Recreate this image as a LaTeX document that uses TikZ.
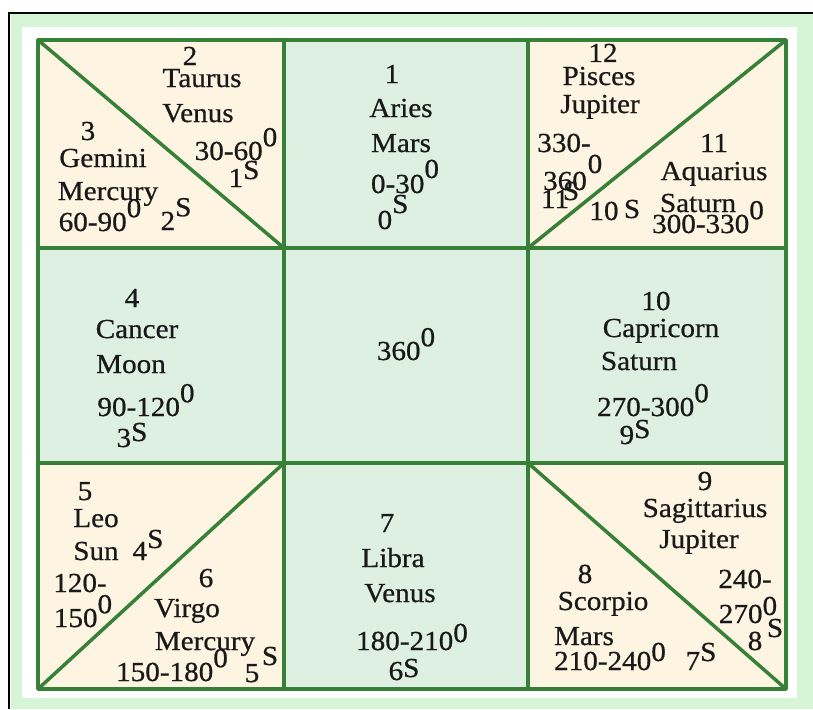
\documentclass[tikz,border=0pt]{standalone}
\usepackage{fontspec}
\setmainfont{Liberation Serif}[FakeStretch=1.06,FakeBold=0.6]
\definecolor{ink}{RGB}{25,25,25}
\definecolor{gridgreen}{RGB}{55,128,55}
\definecolor{cream}{RGB}{253,244,226}
\definecolor{cellgreen}{RGB}{222,240,226}
\definecolor{band}{RGB}{214,244,214}
\newcommand\up[2][.5em]{\raisebox{#1}{#2}}
\begin{document}
\begin{tikzpicture}[x=1pt,y=-1pt,
  t/.style={anchor=base,inner sep=0pt,font=\fontsize{27.5}{32}\selectfont,text=ink},
  gridline/.style={draw=gridgreen,line width=3.5pt,line cap=round,line join=round}]
\useasboundingbox (0,0) rectangle (813,709);
% outer frame
\fill[white] (0,0) rectangle (813,709);
\fill[band,even odd rule] (11,14) rectangle (813,709) (22,27) rectangle (797,698);
\draw[black,line width=1.5pt] (9,709) -- (9,13) -- (813,13);
% cells
\fill[cream] (38,40) rectangle (284,248);
\fill[cellgreen] (284,40) rectangle (528,248);
\fill[cream] (528,40) rectangle (786,248);
\fill[cellgreen] (38,248) rectangle (786,463);
\fill[cream] (38,463) rectangle (284,689);
\fill[cellgreen] (284,463) rectangle (528,689);
\fill[cream] (528,463) rectangle (786,689);
% grid
\draw[gridline] (38,40) rectangle (786,689);
\draw[gridline] (284,40) -- (284,689);
\draw[gridline] (528,40) -- (528,689);
\draw[gridline] (38,248) -- (786,248);
\draw[gridline] (38,463) -- (786,463);
\draw[gridline] (38,40) -- (284,248);
\draw[gridline] (528,248) -- (786,40);
\draw[gridline] (38,689) -- (284,463);
\draw[gridline] (528,463) -- (786,689);
% top-left
\node[t] (a1) at (190,65) {2};
\node[t] (a2) at (202,87) {Taurus};
\node[t] (a3) at (198,122) {Venus};
\node[t] (a4) at (236,160) {30-60\up{0}};
\node[t] (a5) at (244,187) {1\up[8pt]{S}};
\node[t] (a6) at (88,140) {3};
\node[t] (a7) at (103,167) {Gemini};
\node[t] (a8) at (108,200) {Mercury};
\node[t] (a9) at (100,231) {60-90\up{0}};
\node[t] (a10) at (176,230) {2\up{S}};
% top-middle
\node[t] (b1) at (392,83) {1};
\node[t] (b2) at (401,117) {Aries};
\node[t] (b3) at (401,152) {Mars};
\node[t] (b4) at (405,193) {0-30\up[15pt]{0}};
\node[t] (b5) at (393,229) {0\up[16pt]{S}};
% top-right
\node[t] (c1) at (603,62) {12};
\node[t] (c2) at (599,85) {Pisces};
\node[t] (c3) at (600,113) {Jupiter};
\node[t] (c4) at (564,152) {330-};
\node[t] (c5) at (595,173) {0};
\node[t] (c6) at (565,190) {360};
\node[t] (c7) at (555,208) {11};
\node[t] (c8) at (571,200) {S};
\node[t] (c9) at (604,220) {10};
\node[t] (c10) at (632,218) {S};
\node[t] (c11) at (714,152) {11};
\node[t] (c12) at (714,180) {Aquarius};
\node[t] (c13) at (698,212) {Saturn};
\node[t] (c14) at (708,233) {300-330\up{0}};
% middle row
\node[t] (d1) at (132,307) {4};
\node[t] (d2) at (137,338) {Cancer};
\node[t] (d3) at (131,373) {Moon};
\node[t] (d4) at (146,416) {90-120\up{0}};
\node[t] (d5) at (132,447) {3\up[6pt]{S}};
\node[t] (e1) at (406,360) {360\up{0}};
\node[t] (f1) at (656,310) {10};
\node[t] (f2) at (661,337) {Capricorn};
\node[t] (f3) at (639,370) {Saturn};
\node[t] (f4) at (653,416) {270-300\up{0}};
\node[t] (f5) at (635,444) {9\up[6pt]{S}};
% bottom-left
\node[t] (g1) at (85,500) {5};
\node[t] (g2) at (96,527) {Leo};
\node[t] (g3) at (96,560) {Sun};
\node[t] (g4) at (148,560) {4\up[12pt]{S}};
\node[t] (g5) at (80,592) {120-};
\node[t] (g6) at (83,627) {150\up{0}};
\node[t] (g7) at (206,587) {6};
\node[t] (g8) at (187,617) {Virgo};
\node[t] (g9) at (205,650) {Mercury};
\node[t] (g10) at (270,665) {S};
\node[t] (g11) at (172,681) {150-180\up{0}};
\node[t] (g12) at (252,682) {5};
% bottom-middle
\node[t] (h1) at (387,532) {7};
\node[t] (h2) at (393,567) {Libra};
\node[t] (h3) at (400,602) {Venus};
\node[t] (h4) at (412,650) {180-210\up[8pt]{0}};
\node[t] (h5) at (404,680) {6\up[3pt]{S}};
% bottom-right
\node[t] (k1) at (705,490) {9};
\node[t] (k2) at (705,517) {Sagittarius};
\node[t] (k3) at (699,548) {Jupiter};
\node[t] (k4) at (585,583) {8};
\node[t] (k5) at (603,610) {Scorpio};
\node[t] (k6) at (584,645) {Mars};
\node[t] (k7) at (610,670) {210-240\up[9pt]{0}};
\node[t] (k8) at (701,670) {7\up[9pt]{S}};
\node[t] (k9) at (745,588) {240-};
\node[t] (k10) at (748,623) {270\up[8pt]{0}};
\node[t] (k11) at (755,650) {8};
\node[t] (k12) at (775,637) {S};
\end{tikzpicture}
\end{document}
